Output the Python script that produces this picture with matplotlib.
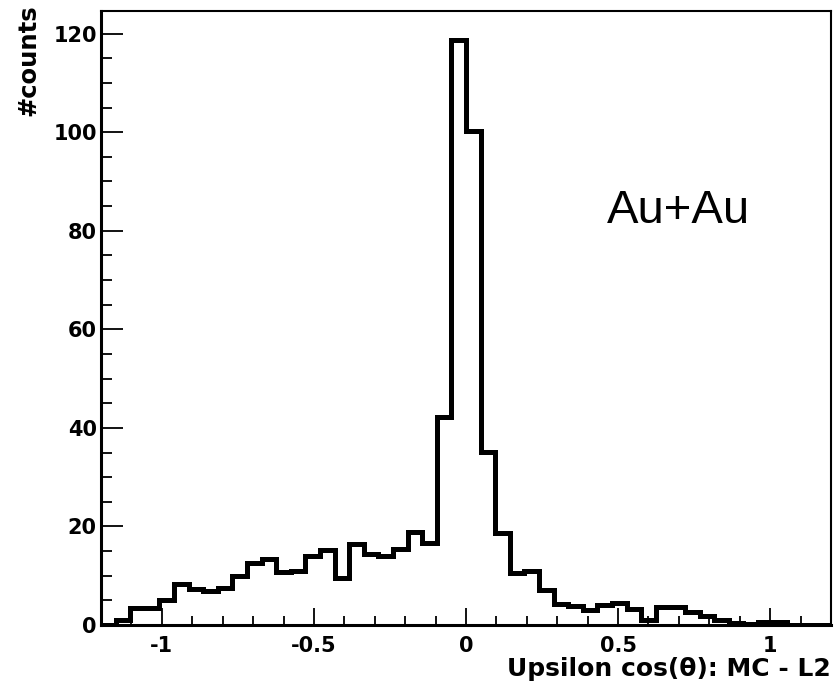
import matplotlib.pyplot as plt
import numpy as np
from matplotlib.ticker import MultipleLocator

# Upsilon cos(theta) MC - L2, 50 bins between -1.2 and 1.2
x_min, x_max, n_bins = -1.2, 1.2, 50
counts = [
    0, 1, 3.4, 3.4, 5, 8.3, 7.3, 6.8, 7.6, 10,
    12.5, 13.4, 10.7, 11, 14, 15.2, 9.5, 16.4, 14.4, 14,
    15.5, 18.9, 16.6, 42.3, 118.7, 100.2, 35.2, 18.6, 10.6, 11,
    7.2, 4.2, 3.8, 3.0, 4.0, 4.4, 3.2, 1.0, 3.7, 3.7,
    2.7, 1.8, 1.0, 0.5, 0.2, 0.7, 0.7, 0, 0, 0,
]
x_ticks = [-1, -0.5, 0, 0.5, 1]
y_ticks = [0, 20, 40, 60, 80, 100, 120]

plt.rcParams["font.family"] = ["DejaVu Sans"]

fig = plt.figure(figsize=(8.37, 6.9), dpi=100)
ax = fig.add_axes([0.1207, 0.0942, 0.8721, 0.8899])

edges = np.linspace(x_min, x_max, n_bins + 1)
ax.stairs(counts, edges, color="black", lw=3.6, baseline=0)

ax.set_xlim(x_min, x_max)
ax.set_ylim(0, 124.6)

ax.set_xticks(x_ticks)
ax.set_xticklabels([f"{t:g}" for t in x_ticks])
ax.set_yticks(y_ticks)
ax.xaxis.set_minor_locator(MultipleLocator(0.1))
ax.yaxis.set_minor_locator(MultipleLocator(5))

ax.tick_params(axis="x", which="major", direction="in", length=12, width=1.3, pad=8)
ax.tick_params(axis="x", which="minor", direction="in", length=6.5, width=1.3)
ax.tick_params(axis="y", which="major", direction="in", length=16, width=1.3, pad=3)
ax.tick_params(axis="y", which="minor", direction="in", length=8, width=1.3)
for lab in ax.get_xticklabels() + ax.get_yticklabels():
    lab.set_fontsize(15)
    lab.set_fontweight("bold")

for side in ["left", "bottom"]:
    ax.spines[side].set_linewidth(2.2)
for side in ["top", "right"]:
    ax.spines[side].set_linewidth(1.5)

ax.set_xlabel("Upsilon cos(θ): MC - L2", fontsize=18, fontweight="bold")
ax.xaxis.set_label_coords(1.0, -0.052)
ax.xaxis.label.set_ha("right")
ax.xaxis.label.set_va("top")
ax.set_ylabel("#counts", fontsize=17.5, fontweight="bold")
ax.yaxis.set_label_coords(-0.09, 1.01)
ax.yaxis.label.set_va("baseline")
ax.yaxis.label.set_ha("right")

ax.text(0.464, 81.6, "Au+Au", fontsize=34, ha="left", va="baseline",
        family="Liberation Sans")

fig.savefig("out.png", dpi=100)
plt.close(fig)
